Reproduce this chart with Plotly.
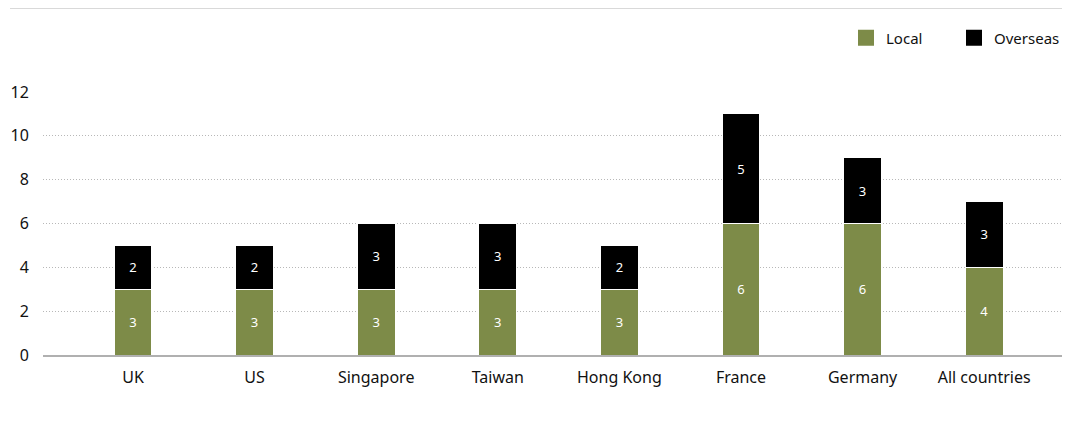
import plotly.graph_objects as go

categories = ["UK", "US", "Singapore", "Taiwan", "Hong Kong", "France", "Germany", "All countries"]
local = [3, 3, 3, 3, 3, 6, 6, 4]
overseas = [2, 2, 3, 3, 2, 5, 3, 3]
y_ticks = [0, 2, 4, 6, 8, 10, 12]

FONT = "Noto Sans, Open Sans, sans-serif"
GREEN = "#7d8b48"
BLACK = "#000000"

# page body has an 8px default margin; figure sized to compensate
W, H = 1067, 413
L, T, R, B = 35, 84, 13, 66
PH = H - T - B

xs = list(range(len(categories)))
fig = go.Figure()
fig.add_trace(go.Bar(
    x=xs, y=local, name="Local", showlegend=False,
    marker=dict(color=GREEN, line=dict(color="white", width=1)),
    text=[str(v) for v in local], textposition="inside", insidetextanchor="middle",
    textfont=dict(color="white", size=13, family=FONT), width=0.31,
))
fig.add_trace(go.Bar(
    x=xs, y=overseas, name="Overseas", showlegend=False,
    marker=dict(color=BLACK, line=dict(color="white", width=1)),
    text=[str(v) for v in overseas], textposition="inside", insidetextanchor="middle",
    textfont=dict(color="white", size=13, family=FONT), width=0.31,
))
for name, col in [("Local", GREEN), ("Overseas", BLACK)]:
    fig.add_trace(go.Scatter(
        x=[None], y=[None], mode="markers", name=name,
        marker=dict(symbol="square", size=17, color=col),
    ))

fig.update_layout(
    barmode="stack",
    width=W, height=H,
    margin=dict(l=L, r=R, t=T, b=B, autoexpand=False),
    paper_bgcolor="white", plot_bgcolor="white",
    font=dict(family=FONT, size=16, color="#111111"),
    showlegend=True,
    legend=dict(orientation="h", x=1.0, xanchor="right", y=1 + (T-30)/PH, yanchor="middle",
                font=dict(size=15, color="#111111"), traceorder="normal",
                itemsizing="trace", entrywidth=63, bgcolor="rgba(0,0,0,0)"),
    xaxis=dict(
        range=[-0.74, 7.64],
        tickmode="array", tickvals=xs, ticktext=categories,
        showgrid=False, showline=True, linecolor="#b0b0b0", linewidth=2,
        ticks="outside", ticklen=7, tickcolor="rgba(0,0,0,0)",
        tickfont=dict(size=16, color="#111111"), zeroline=False,
    ),
    yaxis=dict(
        range=[0, 12], tickvals=y_ticks, showgrid=True, gridcolor="#b8b8b8",
        griddash="1px,2px", gridwidth=1, zeroline=False, showline=False,
        ticks="outside", ticklen=10, tickcolor="rgba(0,0,0,0)",
        tickfont=dict(size=16, color="#111111"),
    ),
    shapes=[dict(type="line", xref="paper", yref="paper",
                 x0=-(L-2)/(W-L-R), x1=1.0, y0=1 + (T)/PH, y1=1 + (T)/PH,
                 line=dict(color="#d9d9d9", width=2))],
)

fig.write_html("out.html")
